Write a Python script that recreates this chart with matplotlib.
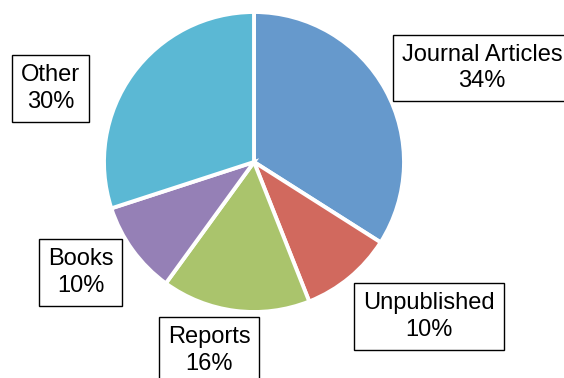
"""Publication type breakdown as a pie with boxed labels."""

import matplotlib

matplotlib.use("Agg")
import matplotlib.pyplot as plt

CATEGORIES = ["Journal Articles", "Unpublished", "Reports", "Books", "Other"]
SHARES = [34, 10, 16, 10, 30]
COLORS = ["#6699cc", "#d1695e", "#aac46c", "#9580b6", "#5bb8d4"]

# label box centres in data units (pie radius = 1)
LABEL_POS = {
    "Journal Articles": (1.52, 0.627),
    "Unpublished": (1.167, -1.03),
    "Reports": (-0.30, -1.257),
    "Books": (-1.157, -0.737),
    "Other": (-1.357, 0.49),
}

plt.rcParams["font.family"] = ["Liberation Sans", "DejaVu Sans"]

fig = plt.figure(figsize=(5.64, 3.78), dpi=100)
ax = fig.add_axes([104 / 564, (378 - 312) / 378, 300 / 564, 300 / 378])

ax.pie(
    SHARES,
    colors=COLORS,
    startangle=90,
    counterclock=False,
    radius=1.0,
    wedgeprops=dict(edgecolor="white", linewidth=2.8),
)

for cat, share in zip(CATEGORIES, SHARES):
    x, y = LABEL_POS[cat]
    ax.text(
        x, y, f"{cat}\n{share}%",
        ha="center", va="center", fontsize=17, linespacing=1.28,
        bbox=dict(boxstyle="square,pad=0.38", facecolor="white",
                  edgecolor="black", linewidth=1.0),
        clip_on=False,
    )

ax.set_xlim(-1, 1)
ax.set_ylim(-1, 1)
ax.set_aspect("equal")
ax.axis("off")

fig.savefig("out.png", dpi=100)
